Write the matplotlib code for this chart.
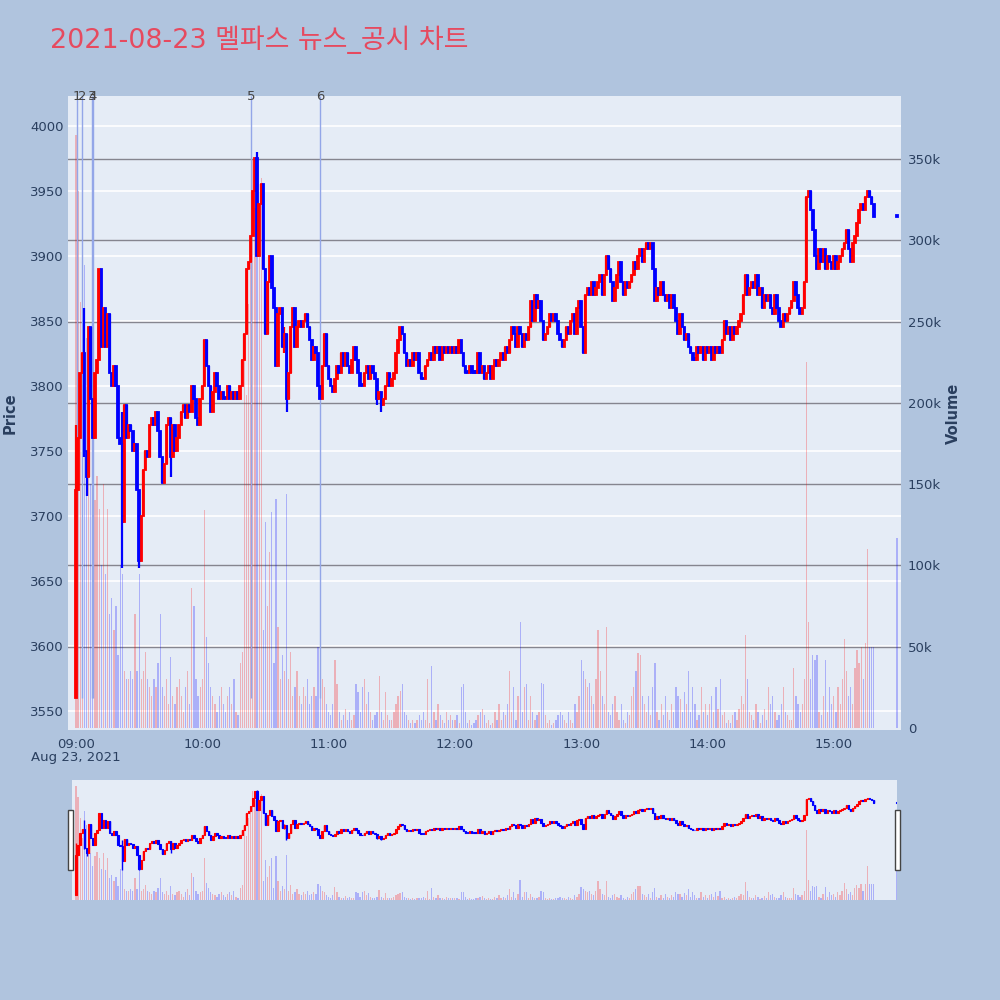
import matplotlib
matplotlib.use('Agg')
import matplotlib.pyplot as plt
import matplotlib.transforms as mtrans
from matplotlib.patches import Rectangle
import numpy as np

title = "2021-08-23 멜파스 뉴스_공시 차트"

# 1-minute closes from 09:00 (minute 0) to 15:19 (minute 379)
close = [
    3720, 3760, 3810, 3825, 3750, 3730, 3845, 3790, 3760, 3810,
    3820, 3890, 3830, 3860, 3830, 3855, 3810, 3800, 3815, 3800,
    3760, 3755, 3695, 3785, 3760, 3770, 3765, 3750, 3755, 3720,
    3665, 3700, 3735, 3750, 3745, 3770, 3775, 3770, 3780, 3765,
    3745, 3725, 3740, 3770, 3775, 3745, 3770, 3750, 3760, 3770,
    3780, 3785, 3775, 3785, 3780, 3800, 3790, 3775, 3770, 3790,
    3800, 3835, 3815, 3800, 3780, 3795, 3810, 3800, 3790, 3795,
    3790, 3790, 3800, 3790, 3795, 3790, 3795, 3790, 3800, 3820,
    3840, 3890, 3895, 3915, 3950, 3975, 3900, 3940, 3955, 3890,
    3840, 3880, 3900, 3875, 3860, 3815, 3855, 3860, 3830, 3840,
    3790, 3810, 3845, 3860, 3830, 3845, 3850, 3845, 3850, 3855,
    3845, 3835, 3820, 3830, 3825, 3800, 3790, 3815, 3840, 3815,
    3805, 3800, 3795, 3805, 3815, 3810, 3825, 3815, 3825, 3815,
    3810, 3820, 3830, 3820, 3810, 3800, 3800, 3810, 3815, 3805,
    3815, 3810, 3805, 3790, 3795, 3785, 3790, 3800, 3810, 3800,
    3805, 3810, 3825, 3835, 3845, 3840, 3825, 3815, 3820, 3815,
    3825, 3820, 3825, 3810, 3805, 3805, 3815, 3820, 3825, 3820,
    3830, 3825, 3830, 3820, 3830, 3825, 3830, 3825, 3830, 3825,
    3830, 3825, 3835, 3825, 3815, 3810, 3810, 3815, 3810, 3810,
    3810, 3825, 3810, 3815, 3805, 3810, 3815, 3805, 3815, 3820,
    3815, 3820, 3825, 3820, 3830, 3825, 3835, 3845, 3840, 3830,
    3845, 3840, 3830, 3840, 3835, 3845, 3865, 3850, 3870, 3860,
    3865, 3850, 3835, 3840, 3845, 3855, 3850, 3855, 3850, 3840,
    3835, 3830, 3835, 3845, 3840, 3850, 3855, 3840, 3860, 3865,
    3845, 3825, 3870, 3875, 3870, 3880, 3870, 3875, 3880, 3885,
    3870, 3885, 3900, 3890, 3880, 3865, 3875, 3885, 3895, 3880,
    3870, 3880, 3875, 3880, 3885, 3895, 3890, 3900, 3905, 3895,
    3905, 3910, 3905, 3910, 3890, 3865, 3875, 3870, 3880, 3870,
    3865, 3870, 3860, 3870, 3860, 3850, 3840, 3855, 3845, 3835,
    3840, 3830, 3825, 3820, 3820, 3830, 3825, 3830, 3820, 3830,
    3825, 3830, 3820, 3830, 3825, 3830, 3825, 3835, 3850, 3840,
    3845, 3835, 3845, 3840, 3845, 3850, 3855, 3870, 3885, 3870,
    3875, 3880, 3875, 3885, 3870, 3875, 3860, 3870, 3865, 3870,
    3860, 3855, 3870, 3860, 3850, 3845, 3855, 3850, 3855, 3860,
    3865, 3880, 3870, 3860, 3855, 3860, 3880, 3945, 3950, 3935,
    3920, 3900, 3890, 3905, 3895, 3905, 3890, 3900, 3895, 3890,
    3900, 3890, 3895, 3900, 3905, 3910, 3920, 3905, 3895, 3910,
    3915, 3925, 3935, 3940, 3935, 3945, 3950, 3945, 3940, 3930,
]
first_open = 3560
# candles with visible wicks: minute -> (high, low)
wicks = {0: (3770, 3560), 4: (3860, 3745), 5: (3750, 3715), 22: (3780, 3660),
         30: (3720, 3660), 45: (3775, 3730), 86: (3980, 3900), 100: (3840, 3780),
         99: (3845, 3825), 143: (3805, 3785), 145: (3795, 3780)}

# volume per minute (thousands)
volume_k = [
    365, 330, 262, 200, 285, 240, 170, 150, 110, 140,
    155, 135, 100, 150, 95, 135, 70, 80, 60, 75,
    45, 100, 95, 35, 30, 30, 35, 30, 70, 35,
    95, 30, 35, 47, 30, 25, 20, 30, 25, 40,
    70, 25, 20, 30, 15, 44, 20, 15, 25, 30,
    20, 10, 25, 35, 15, 86, 75, 30, 20, 25,
    30, 134, 56, 40, 25, 20, 15, 10, 20, 25,
    15, 10, 20, 25, 15, 30, 10, 8, 40, 47,
    238, 205, 261, 290, 350, 320, 343, 312, 338, 60,
    127, 75, 108, 133, 40, 141, 62, 30, 45, 35,
    144, 30, 47, 20, 25, 35, 20, 15, 25, 20,
    30, 15, 20, 25, 20, 50, 44, 30, 25, 15,
    10, 8, 15, 42, 27, 10, 5, 8, 12, 5,
    10, 5, 8, 27, 22, 10, 25, 30, 15, 22,
    10, 5, 8, 10, 32, 10, 5, 22, 8, 5,
    5, 10, 15, 20, 23, 27, 10, 8, 5, 3,
    5, 3, 5, 8, 5, 10, 5, 30, 3, 38,
    10, 5, 15, 8, 5, 3, 10, 5, 8, 5,
    5, 8, 3, 25, 27, 10, 3, 5, 2, 3,
    5, 8, 10, 12, 8, 3, 5, 2, 3, 10,
    5, 15, 5, 10, 8, 15, 35, 10, 25, 5,
    20, 65, 10, 25, 27, 5, 20, 10, 5, 8,
    10, 28, 27, 8, 3, 5, 2, 3, 5, 8,
    10, 8, 5, 3, 10, 5, 3, 15, 10, 20,
    42, 35, 30, 25, 28, 20, 15, 30, 60, 35,
    20, 15, 62, 10, 8, 15, 20, 10, 5, 15,
    5, 3, 10, 8, 20, 25, 35, 46, 45, 20,
    15, 10, 20, 8, 25, 40, 10, 5, 15, 8,
    20, 10, 5, 15, 10, 25, 20, 18, 10, 22,
    15, 35, 10, 25, 15, 5, 8, 25, 10, 15,
    8, 15, 20, 10, 25, 12, 30, 8, 10, 3,
    5, 3, 8, 10, 5, 12, 20, 15, 57, 30,
    10, 8, 5, 15, 10, 3, 8, 12, 5, 25,
    15, 20, 10, 5, 8, 15, 25, 10, 8, 5,
    5, 37, 20, 15, 10, 15, 30, 225, 65, 30,
    45, 42, 45, 10, 8, 20, 42, 10, 25, 15,
    20, 10, 25, 15, 30, 55, 35, 20, 25, 15,
    37, 48, 40, 50, 30, 52, 110, 50, 50, 50,
]
# 15:30 closing auction
auction_minute = 390
auction_price = 3930
auction_vol_k = 117

news_minutes = [0.5, 2.8, 7.6, 8.1, 83.2, 115.9]
news_labels = ['1', '2', '3', '4', '5', '6']

time_ticks = [0, 60, 120, 180, 240, 300, 360]
time_labels = ['09:00', '10:00', '11:00', '12:00', '13:00', '14:00', '15:00']
price_ticks = [3550, 3600, 3650, 3700, 3750, 3800, 3850, 3900, 3950, 4000]
vol_ticks = [0, 50, 100, 150, 200, 250, 300, 350]
vol_tick_labels = ['0', '50k', '100k', '150k', '200k', '250k', '300k', '350k']

# ---------- derived series ----------
mins = list(range(len(close))) + [auction_minute]
closes = close + [auction_price]
opens = [first_open] + close[:-1] + [auction_price]
highs, lows = [], []
for i, (o, c) in enumerate(zip(opens, closes)):
    if i in wicks:
        highs.append(wicks[i][0]); lows.append(wicks[i][1])
    else:
        highs.append(max(o, c)); lows.append(min(o, c))
vols = [v * 1000 for v in volume_k] + [auction_vol_k * 1000]

RED = '#ff0000'
BLUE = '#0000ff'
up = [c > o for o, c in zip(opens, closes)]
ccol = [RED if u else BLUE for u in up]
vcol = [(1, 0, 0, 0.25) if u else (0, 0, 1, 0.25) for u in up]
bottoms = [min(o, c) for o, c in zip(opens, closes)]
heights = [max(abs(c - o), 1.2) for o, c in zip(opens, closes)]

BG = '#b0c4de'
PLOT_BG = '#e5ecf6'
TXT = '#2a3f5f'

fig = plt.figure(figsize=(10, 10), dpi=100, facecolor=BG)


def px(l, t, r, b):
    return [l / 1000, 1 - b / 1000, (r - l) / 1000, (b - t) / 1000]


def build(rect, xlim, plim, vlim, body_lw, wick_lw, main=True):
    ax_v = fig.add_axes(rect)
    ax_v.set_facecolor(PLOT_BG)
    ax_p = ax_v.twinx()
    ax_p.patch.set_visible(False)
    for a in (ax_v, ax_p):
        for s in a.spines.values():
            s.set_visible(False)
    ax_v.set_xlim(*xlim)
    ax_v.set_ylim(*vlim)
    ax_p.set_ylim(*plim)
    if main:
        # price gridlines (white) drawn in volume coordinates so they sit behind the bars
        for p in price_ticks:
            yv = vlim[0] + (p - plim[0]) / (plim[1] - plim[0]) * (vlim[1] - vlim[0])
            ax_v.axhline(yv, color='white', lw=1.2, zorder=0.3)
        for v in vol_ticks[1:]:
            ax_v.axhline(v * 1000, color='#85858f', lw=1.0, zorder=0.4)
    ax_v.bar(mins, vols, width=0.6, color=vcol, linewidth=0, zorder=1)
    if main:
        for m in news_minutes:
            ax_p.vlines(m, 3560, plim[1], color='#93a6e8', lw=1.0, zorder=1)
    ax_p.vlines(mins, lows, highs, colors=ccol, lw=wick_lw, zorder=2)
    ax_p.bar(mins, heights, bottom=bottoms, width=0.7, color=ccol,
             edgecolor=ccol, linewidth=body_lw, zorder=3)
    return ax_v, ax_p


# ---------- main chart ----------
xlim_main = (-3.8, 391.9)
ax_v, ax_p = build(px(68, 96, 901, 730), xlim_main, (3535.4, 4023.0),
                   (-1200, 388700), 1.3, 1.6)

ax_v.yaxis.tick_right()
ax_v.set_yticks([v * 1000 for v in vol_ticks])
ax_v.set_yticklabels(vol_tick_labels)
ax_p.yaxis.tick_left()
ax_p.set_yticks(price_ticks)
ax_p.set_yticklabels([str(p) for p in price_ticks])
ax_v.set_xticks(time_ticks)
ax_v.set_xticklabels(time_labels)
for a in (ax_v, ax_p):
    a.tick_params(length=0, colors=TXT, labelsize=9.5)
ax_v.tick_params(axis='y', pad=5)
ax_p.tick_params(axis='y', pad=3)
ax_v.tick_params(axis='x', pad=6)

blend = mtrans.blended_transform_factory(ax_p.transData, ax_p.transAxes)
for m, lab in zip(news_minutes, news_labels):
    ax_p.text(m, 1.0, lab, transform=blend, ha='center', va='center',
              fontsize=9.5, color='#444444', zorder=5, clip_on=False)

fig.text(76 / 1000, 1 - 757 / 1000, 'Aug 23, 2021', ha='center', va='center',
         fontsize=9.5, color=TXT)
fig.text(10 / 1000, 1 - 413 / 1000, 'Price', rotation=90, ha='center', va='center',
         fontsize=10.5, fontweight='bold', color=TXT)
fig.text(953 / 1000, 1 - 413 / 1000, 'Volume', rotation=90, ha='center', va='center',
         fontsize=10.5, fontweight='bold', color=TXT)
fig.text(50 / 1000, 1 - 40 / 1000, title, ha='left', va='center', fontsize=19.4,
         color='#e64a5f', family=['DejaVu Sans', 'Noto Sans CJK KR'])

# ---------- range slider ----------
sv, sp = build(px(72, 780, 897, 900), (-1.9, 390.1), (3540, 4020),
               (0, 384000), 0.8, 1.0, main=False)
for a in (sv, sp):
    a.set_xticks([]); a.set_yticks([])
for xl in (67.5, 894.5):
    fig.patches.append(Rectangle((xl / 1000, 1 - 870 / 1000), 5.5 / 1000, 60 / 1000,
                                 transform=fig.transFigure, facecolor='white',
                                 edgecolor='#444444', lw=1.0, zorder=10))

fig.savefig('out.png', dpi=100, facecolor=BG)
